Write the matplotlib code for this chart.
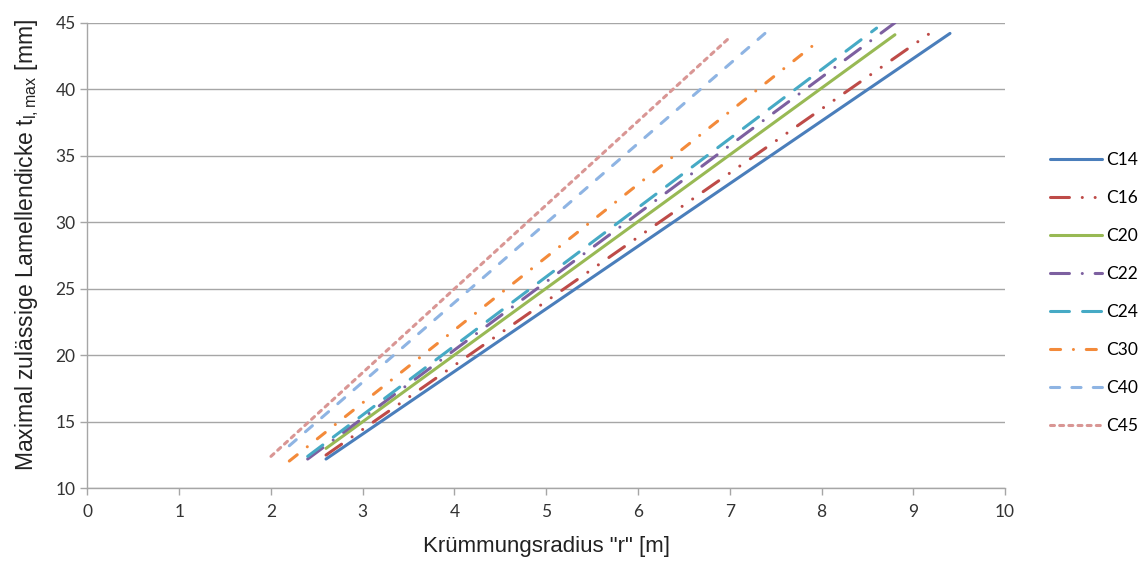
import matplotlib
matplotlib.use("Agg")
import matplotlib.pyplot as plt

# Strength classes and the radius / thickness end points of each line
classes = ["C14", "C16", "C20", "C22", "C24", "C30", "C40", "C45"]
r_start = [2.6, 2.6, 2.6, 2.4, 2.4, 2.2, 2.2, 2.0]
r_end = [9.4, 9.2, 8.8, 8.8, 8.6, 8.0, 7.4, 7.0]
t_start = [12.2, 12.5, 13.0, 12.2, 12.4, 12.05, 13.2, 12.4]
t_end = [44.2, 44.3, 44.1, 45.0, 44.6, 43.8, 44.3, 43.9]

x_ticks = list(range(0, 11))
y_ticks = list(range(10, 46, 5))

colors = ["#4A7EBB", "#BE4B48", "#98B954", "#7D60A0", "#46AAC5",
          "#F38A3A", "#8EB4E3", "#D99694"]
# dash patterns in multiples of the line width (round caps add to each dash)
dot = 0.01
dashes = [
    None,                                   # solid
    (6.2, 4.2, dot, 4.2, dot, 4.2),         # long dash dot dot
    None,                                   # solid
    (6.2, 4.2, dot, 4.2),                   # long dash dot
    (6.2, 4.3),                             # long dash
    (3.3, 4.2, dot, 4.2),                   # dash dot
    (3.0, 4.0),                             # dash
    (1.3, 1.7),                             # square dot
]

plt.rcParams["font.family"] = ["Lato", "DejaVu Sans"]

fig = plt.figure(figsize=(11.46, 5.61), dpi=100)
ax = fig.add_axes([0.0763, 0.1296, 0.8007, 0.8298])

for name, x0, x1, y0, y1, c, d in zip(classes, r_start, r_end, t_start, t_end, colors, dashes):
    line, = ax.plot([x0, x1], [y0, y1], color=c, lw=2.2, label=name,
                    solid_capstyle="round", dash_capstyle="round")
    if d is not None:
        line.set_dashes(d)

ax.set_xlim(0, 10)
ax.set_ylim(10, 45)
ax.set_xticks(x_ticks)
ax.set_yticks(y_ticks)
ax.yaxis.grid(True, color="#A6A6A6", lw=1.0)
ax.set_axisbelow(True)
for s in ("top", "right"):
    ax.spines[s].set_visible(False)
for s in ("left", "bottom"):
    ax.spines[s].set_color("#A6A6A6")
    ax.spines[s].set_linewidth(1.0)
ax.tick_params(axis="both", colors="#A6A6A6", length=5, width=1.0,
               labelsize=12.5, labelcolor="#333333")
ax.tick_params(axis="x", pad=6)

ax.set_xlabel('Krümmungsradius "r" [m]', fontsize=16, family="Liberation Sans",
              color="#222222", labelpad=12)
ax.set_ylabel(r"Maximal zulässige Lamellendicke t$_{\mathregular{l,max}}$ [mm]",
              fontsize=16.5, family="Liberation Sans", color="#222222", labelpad=10)
ax.yaxis.label.set_y(0.523)

leg = ax.legend(loc="center left", bbox_to_anchor=(1.032, 0.42), frameon=False,
                fontsize=12.5, handlelength=3.0, labelspacing=1.27, handletextpad=0.25)

fig.savefig("out.png", dpi=100)
